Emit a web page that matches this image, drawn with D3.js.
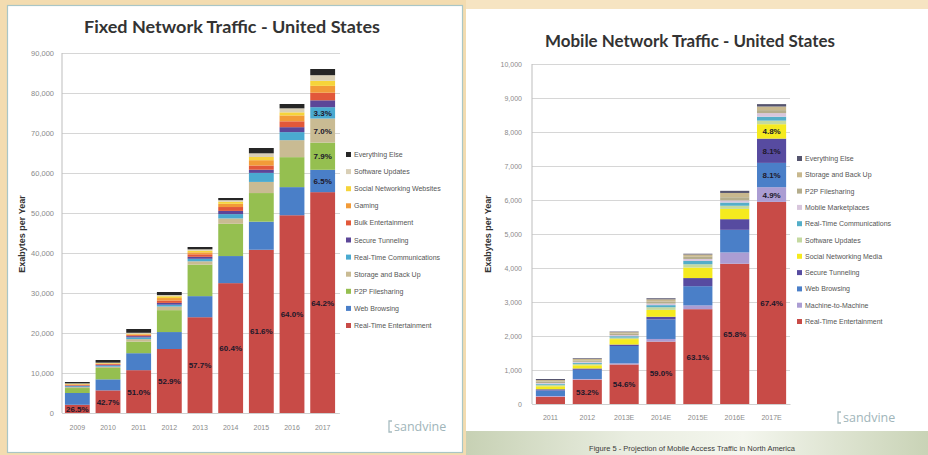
<!DOCTYPE html>
<html>
<head>
<meta charset="utf-8">
<script src="https://cdn.jsdelivr.net/npm/d3@7"></script>
<style>
  html, body { margin: 0; padding: 0; background: #f3dcb0; }
  svg { display: block; }
  text { font-family: "Liberation Sans", Arial, sans-serif; }
</style>
</head>
<body>
<svg id="page" width="928" height="455"></svg>
<script>
// ---------- Fixed network traffic (Exabytes per year), shares in % of yearly total ----------
const fixedYears = ["2009", "2010", "2011", "2012", "2013", "2014", "2015", "2016", "2017"];
const fixedTotals = [7750, 13250, 21000, 30250, 41500, 53750, 66250, 77250, 86000];
const fixedCategories = [
  "Real-Time Entertainment", "Web Browsing", "P2P Filesharing", "Storage and Back Up",
  "Real-Time Communications", "Secure Tunneling", "Bulk Entertainment", "Gaming",
  "Social Networking Websites", "Software Updates", "Everything Else"
];
const fixedRealTimeEnt = [26.5, 42.7, 51.0, 52.9, 57.7, 60.4, 61.6, 64.0, 64.2];
const fixedWebBrowsing = [38.0, 20.8, 20.2, 14.0, 12.7, 12.6, 10.6, 9.1, 6.5];
const fixedP2P         = [16.0, 21.4, 13.8, 18.1, 19.0, 15.0, 10.8, 9.7, 7.9];
const fixedStorage     = [3.0, 2.5, 3.0, 3.0, 2.0, 2.5, 4.2, 5.5, 7.0];
const fixedRealTimeCom = [3.0, 2.0, 2.0, 1.5, 1.5, 2.0, 3.4, 2.6, 3.3];
const fixedSecure      = [2.0, 1.5, 1.5, 1.5, 1.2, 1.5, 1.2, 1.6, 2.0];
const fixedBulk        = [2.0, 1.5, 1.2, 2.0, 1.5, 1.8, 1.6, 1.9, 2.2];
const fixedGaming      = [2.0, 1.0, 1.0, 2.0, 1.2, 1.5, 2.0, 1.9, 2.0];
const fixedSocial      = [1.5, 0.8, 0.8, 1.5, 1.0, 1.0, 1.2, 1.0, 1.5];
const fixedSoftware    = [1.5, 0.8, 1.0, 1.0, 0.8, 0.7, 1.4, 1.3, 1.6];
const fixedElse        = [4.5, 5.0, 4.5, 2.5, 1.4, 1.0, 2.0, 1.4, 1.8];
const fixedColors = ["#c84b47", "#4a7fc8", "#95bf50", "#c9bb93", "#4aaad0", "#5c4698",
                     "#e2583a", "#f29b38", "#f6d43a", "#d9cfb6", "#262626"];
const fixedLabelledInLastYear = ["Web Browsing", "P2P Filesharing", "Storage and Back Up", "Real-Time Communications"];
const fixedTicks = [0, 10000, 20000, 30000, 40000, 50000, 60000, 70000, 80000, 90000];

// ---------- Mobile network traffic ----------
const mobileYears = ["2011", "2012", "2013E", "2014E", "2015E", "2016E", "2017E"];
const mobileTotals = [735, 1345, 2130, 3110, 4420, 6270, 8820];
const mobileCategories = [
  "Real-Time Entertainment", "Machine-to-Machine", "Web Browsing", "Secure Tunneling",
  "Social Networking Media", "Software Updates", "Real-Time Communications",
  "Mobile Marketplaces", "P2P Filesharing", "Storage and Back Up", "Everything Else"
];
const mobileRealTimeEnt = [29.0, 53.2, 54.6, 59.0, 63.1, 65.8, 67.4];
const mobileM2M         = [3.0, 1.5, 1.5, 2.5, 2.5, 5.3, 4.9];
const mobileWebBrowsing = [22.0, 20.0, 24.0, 18.5, 12.8, 10.6, 8.1];
const mobileSecure      = [5.0, 3.0, 2.0, 2.5, 5.4, 5.0, 8.1];
const mobileSocial      = [12.0, 7.0, 7.5, 6.5, 7.0, 4.8, 4.8];
const mobileSoftware    = [6.0, 3.0, 2.0, 2.5, 2.2, 1.5, 1.2];
const mobileRealTimeCom = [4.0, 2.5, 2.0, 2.0, 2.2, 1.5, 1.3];
const mobileMarket      = [3.0, 2.0, 1.6, 1.5, 1.3, 1.0, 1.2];
const mobileP2P         = [6.0, 3.0, 2.0, 2.0, 1.5, 1.5, 1.0];
const mobileStorage     = [6.0, 3.3, 2.0, 2.0, 1.5, 2.0, 1.2];
const mobileElse        = [4.0, 1.5, 0.8, 1.0, 0.5, 1.0, 0.8];
const mobileColors = ["#c84b47", "#ab9dd3", "#4a7fc8", "#574ba0", "#f5ea1e", "#c4d9a0",
                      "#54aec8", "#d8c6dc", "#b4ad8c", "#c8b88e", "#55546e"];
const mobileLabelledInLastYear = ["Machine-to-Machine", "Web Browsing", "Secure Tunneling", "Social Networking Media"];
const mobileTicks = [0, 1000, 2000, 3000, 4000, 5000, 6000, 7000, 8000, 9000, 10000];

const svg = d3.select("#page");

// ---------- page backdrop ----------
const defs = svg.append("defs");
const swoosh = defs.append("linearGradient").attr("id", "swoosh");
[["0%", "#c7d1b4"], ["35%", "#e9ede0"], ["60%", "#f4f6ee"], ["100%", "#c9d3b6"]]
  .forEach(([o, c]) => swoosh.append("stop").attr("offset", o).attr("stop-color", c));

svg.append("rect").attr("width", 928).attr("height", 455).attr("fill", "#f3dcb0");
svg.append("rect").attr("x", 466).attr("y", 0).attr("width", 462).attr("height", 9).attr("fill", "#f6e4c2");
svg.append("rect").attr("x", 466).attr("y", 9).attr("width", 462).attr("height", 446).attr("fill", "#ffffff");
svg.append("rect").attr("x", 466).attr("y", 431).attr("width", 462).attr("height", 24).attr("fill", "url(#swoosh)");
svg.append("rect").attr("x", 7.5).attr("y", 5.5).attr("width", 455).attr("height", 447)
  .attr("fill", "#ffffff").attr("stroke", "#a9c6c6").attr("stroke-width", 1.2);

svg.append("text").attr("x", 692).attr("y", 451).attr("text-anchor", "middle")
  .attr("font-size", 7.5).attr("fill", "#3a3a3a")
  .text("Figure 5 - Projection of Mobile Access Traffic in North America");

function drawStackedChart(cfg) {
  const g = svg.append("g");
  const x = d3.scaleBand().domain(cfg.years).range([cfg.x0, cfg.x1])
    .paddingInner(cfg.pad).paddingOuter(cfg.pad / 2);
  const y = d3.scaleLinear().domain([0, cfg.yMax]).range([cfg.y0, cfg.y1]);

  // rows of absolute values built from totals and shares
  const rows = cfg.years.map((yr, i) => {
    const r = { year: yr, total: cfg.totals[i] };
    cfg.categories.forEach((c, j) => { r[c] = cfg.totals[i] * cfg.shares[j][i] / 100; r["pct:" + c] = cfg.shares[j][i]; });
    return r;
  });
  const series = d3.stack().keys(cfg.categories)(rows);

  // gridlines + value axis
  const yAxis = g.append("g").attr("transform", `translate(${cfg.x0},0)`)
    .call(d3.axisLeft(y).tickValues(cfg.ticks).tickFormat(d3.format(","))
      .tickSize(-(cfg.gridEnd - cfg.x0)).tickPadding(cfg.tickPad));
  yAxis.select(".domain").remove();
  yAxis.selectAll(".tick line").attr("stroke", "#d6d6d6");
  yAxis.selectAll(".tick text").attr("fill", "#8a8a8a").attr("font-size", cfg.tickFont)
    .style("font-family", "'Liberation Sans', Arial, sans-serif");
  g.append("line").attr("x1", cfg.x0).attr("x2", cfg.x0).attr("y1", cfg.y1).attr("y2", cfg.y0)
    .attr("stroke", "#bdbdbd");

  // stacked bars
  g.append("g").selectAll("g").data(series).join("g")
    .attr("fill", (d, i) => cfg.colors[i])
    .selectAll("rect").data(d => d).join("rect")
    .attr("x", d => x(d.data.year))
    .attr("width", x.bandwidth())
    .attr("y", d => y(d[1]))
    .attr("height", d => y(d[0]) - y(d[1]));

  // percentage labels
  const labels = [];
  series.forEach(s => {
    s.forEach((d, i) => {
      const pct = d.data["pct:" + s.key];
      const isMain = s.key === "Real-Time Entertainment" && pct >= cfg.mainLabelMin;
      const isLast = i === cfg.years.length - 1 && cfg.labelledLast.includes(s.key);
      if (isMain || isLast) labels.push({ d, pct });
    });
  });
  g.append("g").selectAll("text").data(labels).join("text")
    .attr("x", l => x(l.d.data.year) + x.bandwidth() / 2)
    .attr("y", l => (y(l.d[0]) + y(l.d[1])) / 2 + 3)
    .attr("text-anchor", "middle")
    .attr("font-size", 8).attr("font-weight", "bold").attr("fill", "#20182a")
    .text(l => d3.format(".1f")(l.pct) + "%");

  // category axis
  const xAxis = g.append("g").attr("transform", `translate(0,${cfg.y0})`)
    .call(d3.axisBottom(x).tickSize(0).tickPadding(cfg.xLabelPad));
  xAxis.select(".domain").attr("stroke", "#cfcfcf");
  xAxis.selectAll(".tick text").attr("fill", "#8a8a8a").attr("font-size", 7)
    .style("font-family", "'Liberation Sans', Arial, sans-serif");

  // titles
  g.append("text").attr("x", cfg.titleX).attr("y", cfg.titleY).attr("text-anchor", "middle")
    .attr("font-size", 17).attr("font-weight", "bold").attr("fill", "#333")
    .attr("textLength", cfg.titleWidth).attr("lengthAdjust", "spacingAndGlyphs")
    .style("font-family", "Lato, 'Open Sans', sans-serif")
    .text(cfg.title);
  g.append("text").attr("transform", `translate(${cfg.axisTitleX},234) rotate(-90)`)
    .attr("text-anchor", "middle").attr("font-size", 9).attr("font-weight", "bold").attr("fill", "#333")
    .text("Exabytes per Year");

  // legend, top entry is the top of the stack
  const legendItems = cfg.categories.map((c, i) => ({ c, color: cfg.colors[i] })).reverse();
  const lg = g.append("g").selectAll("g").data(legendItems).join("g")
    .attr("transform", (d, i) => `translate(${cfg.legendX},${cfg.legendY + i * cfg.legendStep})`);
  lg.append("rect").attr("x", 0).attr("y", -3).attr("width", 5).attr("height", 5).attr("fill", d => d.color);
  lg.append("text").attr("x", 8).attr("y", 2).attr("font-size", 7).attr("fill", "#555").text(d => d.c);

  // brand mark
  const b = g.append("g").attr("transform", `translate(${cfg.logoX},${cfg.logoY})`);
  b.append("path").attr("d", "M4,-10 L1,-10 L1,1 L4,1").attr("fill", "none")
    .attr("stroke", "#a7bcc0").attr("stroke-width", 1.3);
  b.append("text").attr("x", 6).attr("y", 0).attr("font-size", 12.5).attr("fill", "#9fb5ba")
    .style("font-family", "'Open Sans', sans-serif").text("sandvine");
}

drawStackedChart({
  years: fixedYears, totals: fixedTotals, categories: fixedCategories,
  shares: [fixedRealTimeEnt, fixedWebBrowsing, fixedP2P, fixedStorage, fixedRealTimeCom, fixedSecure,
           fixedBulk, fixedGaming, fixedSocial, fixedSoftware, fixedElse],
  colors: fixedColors, labelledLast: fixedLabelledInLastYear, ticks: fixedTicks, mainLabelMin: 20,
  x0: 62, x1: 338, gridEnd: 340, pad: 0.19, y0: 413, y1: 53, yMax: 90000,
  tickPad: 8, tickFont: 7.5, xLabelPad: 12,
  title: "Fixed Network Traffic - United States", titleX: 232, titleY: 33, titleWidth: 296,
  axisTitleX: 25, legendX: 346, legendY: 155, legendStep: 17.1, logoX: 388, logoY: 431
});

drawStackedChart({
  years: mobileYears, totals: mobileTotals, categories: mobileCategories,
  shares: [mobileRealTimeEnt, mobileM2M, mobileWebBrowsing, mobileSecure, mobileSocial, mobileSoftware,
           mobileRealTimeCom, mobileMarket, mobileP2P, mobileStorage, mobileElse],
  colors: mobileColors, labelledLast: mobileLabelledInLastYear, ticks: mobileTicks, mainLabelMin: 40,
  x0: 532, x1: 790, gridEnd: 790, pad: 0.21, y0: 404, y1: 64, yMax: 10000,
  tickPad: 10, tickFont: 7, xLabelPad: 11,
  title: "Mobile Network Traffic - United States", titleX: 690, titleY: 47, titleWidth: 290,
  axisTitleX: 491, legendX: 797, legendY: 159, legendStep: 16.3, logoX: 837, logoY: 422
});
</script>
</body>
</html>
